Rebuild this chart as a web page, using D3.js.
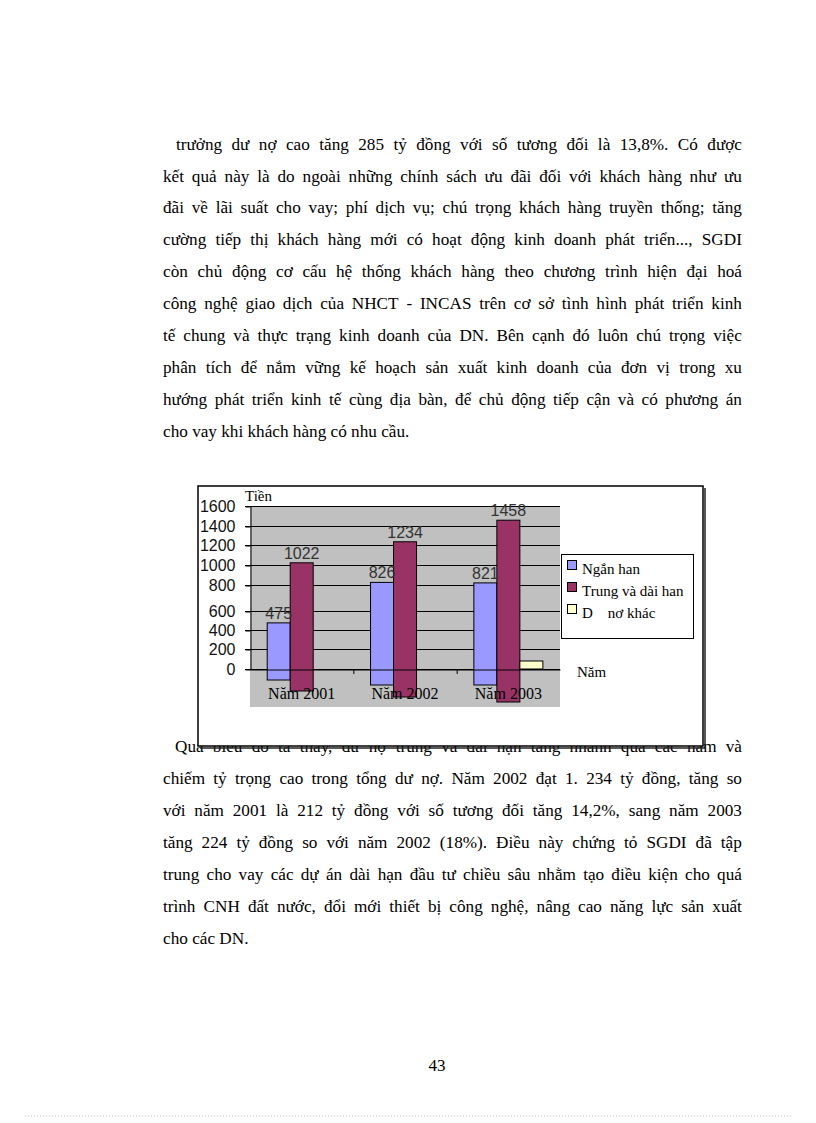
<!DOCTYPE html>
<html>
<head>
<meta charset="utf-8">
<script src="https://cdn.jsdelivr.net/npm/d3@7"></script>
<style>
  body { margin: 0; background: #fff; position: relative; width: 816px; height: 1123px; overflow: hidden; }
  .line { position: absolute; display: flex; flex-wrap: nowrap; white-space: nowrap;
          font-family: "Liberation Serif", "Times New Roman", serif; font-size: 17.2px;
          line-height: normal; color: #000; }
  .line.just { justify-content: space-between; }
  .line.last { justify-content: flex-start; column-gap: 4.3px; }
  svg { position: absolute; left: 0; top: 0; display: block; }
  svg text { font-family: "Liberation Serif", "Times New Roman", serif; }
</style>
</head>
<body>
<script>
// chart data
var years = ['Năm 2001', 'Năm 2002', 'Năm 2003'];
var seriesNames = ['Ngắn han', 'Trung và dài han', 'D    nơ khác'];
var nganHan = [475, 826, 821];
var trungDaiHan = [1022, 1234, 1458];
var duNoKhac = [0, 0, 80];
// the source bars hang below the zero line; these are where they end
var nganHanDay = [-110, -160, -160];
var trungDaiHanDay = [-220, -280, -330];
var duNoKhacDay = [0, 0, 0];
var yTicks = [0, 200, 400, 600, 800, 1000, 1200, 1400, 1600];

var para1 = [
  'trưởng dư nợ cao tăng 285 tỷ đồng với số tương đối là 13,8%. Có được',
  'kết quả này là do ngoài những chính sách ưu đãi đối với khách hàng như ưu',
  'đãi về lãi suất cho vay; phí dịch vụ; chú trọng khách hàng truyền thống; tăng',
  'cường tiếp thị khách hàng mới có hoạt động kinh doanh phát triển..., SGDI',
  'còn chủ động cơ cấu hệ thống khách hàng theo chương trình hiện đại hoá',
  'công nghệ giao dịch của NHCT - INCAS trên cơ sở tình hình phát triển kinh',
  'tế chung và thực trạng kinh doanh của DN. Bên cạnh đó luôn chú trọng việc',
  'phân tích để nắm vững kế hoạch sản xuất kinh doanh của đơn vị trong xu',
  'hướng phát triển kinh tế cùng địa bàn, để chủ động tiếp cận và có phương án',
  'cho vay khi khách hàng có nhu cầu.'
];
var para2 = [
  'Qua biểu đồ ta thấy, dư nợ trung và dài hạn tăng nhanh qua các năm và',
  'chiếm tỷ trọng cao trong tổng dư nợ. Năm 2002 đạt 1. 234 tỷ đồng, tăng so',
  'với năm 2001 là 212 tỷ đồng với số tương đối tăng 14,2%, sang năm 2003',
  'tăng 224 tỷ đồng so với năm 2002 (18%). Điều này chứng tỏ SGDI đã tập',
  'trung cho vay các dự án dài hạn đầu tư chiều sâu nhằm tạo điều kiện cho quá',
  'trình CNH đất nước, đổi mới thiết bị công nghệ, nâng cao năng lực sản xuất',
  'cho các DN.'
];

var W = 816, H = 1123;
var serif = '"Liberation Serif", "Times New Roman", serif';
var sans = '"Liberation Sans", Arial, sans-serif';

// body text: one flex row per printed line, words spread to the margins
var page = d3.select('body').append('div');
var left = 163, right = 742, indent = 176;
var ascent = 17.2 * 0.891;

function drawLine(str, x0, baseline, justify) {
  page.append('div')
    .attr('class', justify ? 'line just' : 'line last')
    .style('left', x0 + 'px')
    .style('top', (baseline - ascent) + 'px')
    .style('width', (right - x0) + 'px')
    .selectAll('span')
    .data(str.split(' '))
    .join('span')
    .text(function(d) { return d; });
}

para1.forEach(function(line, i) {
  drawLine(line, i === 0 ? indent : left, 150 + i * 31.9, i < para1.length - 1);
});
var para2Y = [752, 784, 816, 848, 880, 912, 944];
para2.forEach(function(line, i) {
  drawLine(line, i === 0 ? indent - 1 : left, para2Y[i], i < para2.length - 1);
});

var svg = d3.select('body').append('svg')
  .attr('width', W)
  .attr('height', H);

svg.append('text')
  .attr('x', 437)
  .attr('y', 1071)
  .attr('text-anchor', 'middle')
  .style('font-size', '17px')
  .text('43');

svg.append('line')
  .attr('x1', 25).attr('x2', 792)
  .attr('y1', 1116).attr('y2', 1116)
  .attr('stroke', '#c9c0c6')
  .attr('stroke-dasharray', '1,2');

// ---- chart (drawn over the text, as in the scan) ----
var chart = svg.append('g');

chart.append('rect')
  .attr('x', 198).attr('y', 486)
  .attr('width', 505).attr('height', 260)
  .attr('fill', '#fff')
  .attr('stroke', '#000')
  .attr('stroke-width', 1.5);
chart.append('path')
  .attr('d', 'M705,488V748H200')
  .attr('fill', 'none')
  .attr('stroke', '#222')
  .attr('stroke-width', 1.5);

var y = d3.scaleLinear()
  .domain(yTicks)
  .range([669, 649, 630, 611, 585, 565, 545, 526, 506]);

var x = d3.scaleBand()
  .domain(years)
  .range([250, 560]);

var x1 = d3.scaleBand()
  .domain(seriesNames)
  .range([17.2, 86.2]);

var colors = d3.scaleOrdinal()
  .domain(seriesNames)
  .range(['#9999ff', '#993366', '#ffffcc']);

var series = [
  { name: seriesNames[0], values: nganHan, day: nganHanDay, label: true },
  { name: seriesNames[1], values: trungDaiHan, day: trungDaiHanDay, label: true },
  { name: seriesNames[2], values: duNoKhac, day: duNoKhacDay, label: false }
];

// plot area
chart.append('rect')
  .attr('x', 250).attr('y', 506)
  .attr('width', 310).attr('height', 201)
  .attr('fill', '#c0c0c0');

chart.append('g')
  .selectAll('line')
  .data(yTicks)
  .join('line')
  .attr('x1', 245).attr('x2', 560)
  .attr('y1', function(d) { return y(d) + 0.5; })
  .attr('y2', function(d) { return y(d) + 0.5; })
  .attr('stroke', '#000');

var yAxis = chart.append('g')
  .attr('transform', 'translate(250.5,0.5)')
  .call(d3.axisLeft(y).tickValues(yTicks).tickFormat(d3.format('d'))
    .tickSize(5).tickSizeOuter(0).tickPadding(10));
yAxis.selectAll('text')
  .style('font-family', sans)
  .style('font-size', '16px')
  .attr('fill', '#111');
yAxis.selectAll('line, path').attr('stroke', '#000');

// bars
var bars = [];
series.forEach(function(s) {
  years.forEach(function(yr, i) {
    bars.push({ name: s.name, year: yr, value: s.values[i], day: s.day[i], label: s.label });
  });
});

chart.append('g')
  .selectAll('rect')
  .data(bars.filter(function(d) { return d.value > 0; }))
  .join('rect')
  .attr('x', function(d) { return x(d.year) + x1(d.name); })
  .attr('y', function(d) { return y(d.value); })
  .attr('width', x1.bandwidth())
  .attr('height', function(d) { return y(d.day) - y(d.value); })
  .attr('fill', function(d) { return colors(d.name); })
  .attr('stroke', '#000')
  .attr('stroke-width', 1);

// x axis
var xAxis = chart.append('g')
  .attr('transform', 'translate(0,' + (y(0) + 0.5) + ')')
  .call(d3.axisBottom(x).tickSize(0).tickSizeOuter(0).tickPadding(18));
xAxis.select('.domain').attr('stroke', '#000');
xAxis.selectAll('text')
  .style('font-family', serif)
  .style('font-size', '16px')
  .attr('fill', '#000');

chart.append('g')
  .selectAll('line')
  .data(years.slice(1))
  .join('line')
  .attr('x1', function(d) { return x(d) + 0.5; })
  .attr('x2', function(d) { return x(d) + 0.5; })
  .attr('y1', y(0)).attr('y2', y(0) + 5)
  .attr('stroke', '#000');

// value labels
chart.append('g')
  .selectAll('text')
  .data(bars.filter(function(d) { return d.label; }))
  .join('text')
  .attr('x', function(d) { return x(d.year) + x1(d.name) + x1.bandwidth() / 2; })
  .attr('y', function(d) { return y(d.value) - 4; })
  .attr('text-anchor', 'middle')
  .style('font-family', sans)
  .style('font-size', '16px')
  .attr('fill', '#333')
  .text(function(d) { return d.value; });

// axis titles
chart.append('text')
  .attr('x', 245).attr('y', 501)
  .style('font-size', '15px')
  .text('Tiền');

chart.append('text')
  .attr('x', 577).attr('y', 677)
  .style('font-size', '15px')
  .text('Năm');

// legend
var legend = chart.append('g');
legend.append('rect')
  .attr('x', 561.5).attr('y', 554.5)
  .attr('width', 132).attr('height', 84)
  .attr('fill', '#fff')
  .attr('stroke', '#000');

var legendY = [574, 596, 618];
var item = legend.selectAll('g.item')
  .data(seriesNames)
  .join('g')
  .attr('class', 'item')
  .attr('transform', function(d, i) { return 'translate(567,' + legendY[i] + ')'; });

item.append('rect')
  .attr('x', 0.5).attr('y', -13.5)
  .attr('width', 9).attr('height', 9)
  .attr('fill', function(d) { return colors(d); })
  .attr('stroke', '#000');

item.append('text')
  .attr('x', 15)
  .attr('y', 0)
  .style('white-space', 'pre')
  .style('font-size', '15px')
  .text(function(d) { return d; });
</script>
</body>
</html>
